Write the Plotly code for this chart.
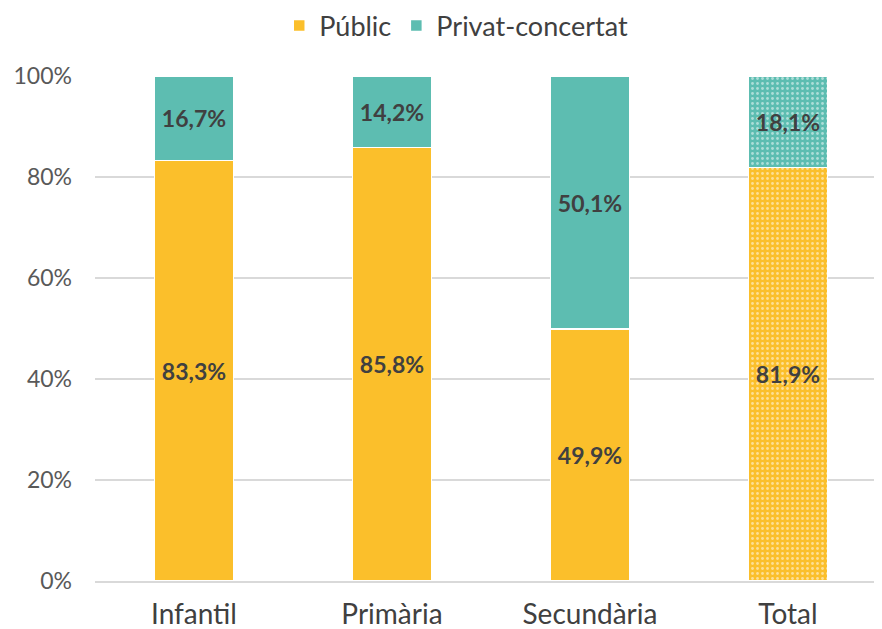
import plotly.graph_objects as go

categories = ["Infantil", "Primària", "Secundària", "Total"]
public_vals = [83.3, 85.8, 49.9, 81.9]
private_vals = [16.7, 14.2, 50.1, 18.1]
series_names = ["Públic", "Privat-concertat"]
y_ticks = [0, 20, 40, 60, 80, 100]

YELLOW = "#FBBF2B"
TEAL = "#5DBDB1"

def fmt(v):
    return f"{v:.1f}".replace(".", ",") + "%"

pattern_shapes = ["", "", "", "."]

fig = go.Figure()
for name, vals, col in [(series_names[0], public_vals, YELLOW), (series_names[1], private_vals, TEAL)]:
    fig.add_trace(go.Bar(
        name=name, x=categories, y=vals,
        marker=dict(color=col, line=dict(color="white", width=1.5),
                    pattern=dict(shape=pattern_shapes, fgcolor="white", bgcolor=col,
                                 size=5, solidity=0.25, fillmode="overlay")),
        text=[fmt(v) for v in vals], textposition="inside", insidetextanchor="middle",
        textfont=dict(family="Lato", size=23, color="#404040", weight="bold"),
        textangle=0,
    ))

# page has an 8px body margin; compensate
fig.update_layout(
    barmode="stack", bargap=0.6,
    width=874, height=621,
    margin=dict(l=87, r=0, t=68, b=48, autoexpand=False),
    plot_bgcolor="white", paper_bgcolor="white",
    font=dict(family="Lato", size=22, color="#595959"),
    legend=dict(orientation="h", x=0.459, xanchor="center", y=0.971, yanchor="middle",
                yref="container", font=dict(size=27, color="#404040"),
                itemwidth=30, traceorder="normal"),
    uniformtext=dict(minsize=10, mode="show"),
)
fig.update_yaxes(range=[0, 100], tickvals=y_ticks, ticktext=[f"{t}%" for t in y_ticks],
                 showgrid=True, gridcolor="#D9D9D9", gridwidth=1.5, zeroline=False,
                 showline=False, ticks="", ticklen=0, ticklabelstandoff=22,
                 tickfont=dict(size=23, color="#595959"))
fig.update_xaxes(range=[-0.5, 3.475], showline=True, linecolor="#D9D9D9", linewidth=1.5,
                 ticks="", ticklabelstandoff=8,
                 tickfont=dict(size=28, color="#404040"))

fig.write_html("out.html")
